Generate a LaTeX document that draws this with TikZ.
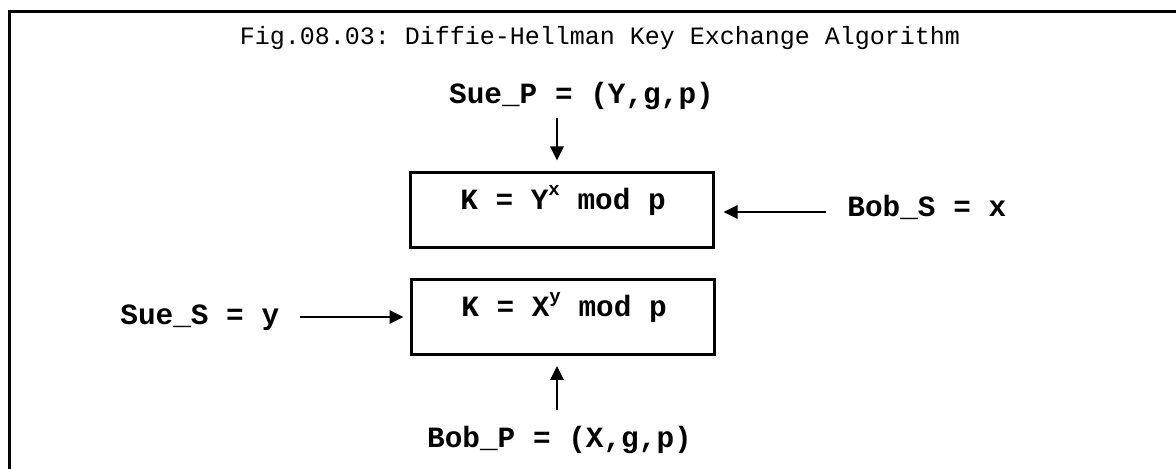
\documentclass[tikz,border=0pt]{standalone}
\usepackage{fontspec}
\setmonofont{Liberation Mono}
\usetikzlibrary{arrows.meta}
\newcommand{\supx}[1]{\raisebox{7pt}{\fontsize{9.5}{10}\selectfont #1}}
\begin{document}
\begin{tikzpicture}[x=0.5pt,y=-0.5pt,
  lbl/.style={font=\ttfamily\bfseries\fontsize{14.7}{16}\selectfont, inner sep=0pt},
  ttl/.style={font=\ttfamily\fontsize{12.5}{14}\selectfont, inner sep=0pt},
  keybox/.style={draw, line width=1.5pt, minimum width=151.5pt, minimum height=37.5pt, inner sep=0pt},
  arr/.style={line width=1.4pt, -{Triangle[length=7pt,width=6.5pt]}}]
\useasboundingbox (0,0) rectangle (1176,469);
% outer frame
\draw[line width=1.5pt] (9.5,472) -- (9.5,11.5) -- (1180,11.5);

% title
\node[ttl, anchor=base] (title) at (600,45) {Fig.08.03: Diffie-Hellman Key Exchange Algorithm};

% key computation boxes
\node[keybox] (box1) at (562,210) {};
\node[keybox] (box2) at (563,317.5) {};
\node[lbl, anchor=base] (k1) at (563,210) {K = Y\supx{x} mod p};
\node[lbl, anchor=base] (k2) at (564,317) {K = X\supx{y} mod p};

% public and secret values
\node[lbl, anchor=base] (sueP) at (581.5,104) {Sue\_P = (Y,g,p)};
\node[lbl, anchor=base] (bobP) at (559.5,447) {Bob\_P = (X,g,p)};
\node[lbl, anchor=base west] (bobS) at (847,217) {Bob\_S = x};
\node[lbl, anchor=base west] (sueS) at (120,325) {Sue\_S = y};

% arrows into the boxes
\coordinate (sueTail) at (557,118);
\coordinate (bobTail) at (557,410);
\coordinate (bobSTail) at (826,212);
\coordinate (sueSTail) at (300,317);
\draw[arr, shorten >=5.25pt] (sueTail) -- (sueTail |- box1.north);
\draw[arr, shorten >=4.75pt] (bobTail) -- (bobTail |- box2.south);
\draw[arr, shorten >=4.25pt] (bobSTail) -- (bobSTail -| box1.east);
\draw[arr, shorten >=3.25pt] (sueSTail) -- (sueSTail -| box2.west);
\end{tikzpicture}
\end{document}
